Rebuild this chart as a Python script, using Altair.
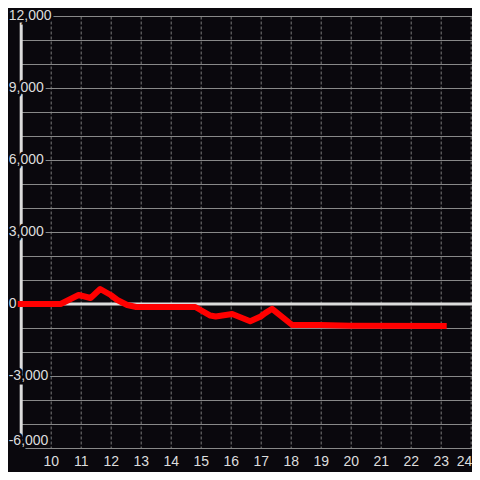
import altair as alt
import pandas as pd

# ---- data ----
hours = [9.0, 10.33, 10.93, 11.33, 11.65, 12.0, 12.22, 12.55, 12.85, 14.82,
         15.32, 15.5, 16.05, 16.65, 17.0, 17.15, 17.38, 18.05, 19.0, 20.0, 23.1]
values = [0, 0, 375, 250, 625, 375, 167, -40, -125, -125,
          -480, -520, -420, -720, -520, -380, -200, -875, -880, -910, -920]

y_ticks = [-6000, -3000, 0, 3000, 6000, 9000, 12000]
y_labels = ["-6,000", "-3,000", "0", "3,000", "6,000", "9,000", "12,000"]
x_ticks = list(range(10, 25))
y_grid = list(range(-6000, 12001, 1000))

BG = "#0a080d"
FG = "#dddddd"
FONT = "Liberation Sans"

line_df = pd.DataFrame({"hour": hours, "value": values})
lab_df = pd.DataFrame({"value": y_ticks, "label": y_labels})
zero_df = pd.DataFrame({"value": [0]})

x_scale = alt.Scale(domain=[9, 24.043], nice=False, zero=False)
y_scale = alt.Scale(domain=[-6000, 12000], nice=False, zero=False)

x_enc = alt.X("hour:Q", scale=x_scale,
              axis=alt.Axis(values=x_ticks, title=None, domain=False, ticks=False,
                            labelColor=FG, labelFontSize=14, labelFont=FONT,
                            labelPadding=6, labelFlush=False, labelOverlap=False,
                            labelBound=False,
                            labelAlign={"expr": "datum.value >= 24 ? 'right' : 'center'"},
                            labelOffset={"expr": "datum.value >= 24 ? 1 : 0"},
                            grid=True, gridColor="#7a7a7a", gridDash=[3, 2], gridWidth=1))
y_axis = alt.Axis(values=y_grid, title=None, labels=False, ticks=False,
                  domain=True, domainColor=FG, domainWidth=3,
                  grid=True, gridColor="#888888", gridWidth=1)
y_enc = alt.Y("value:Q", scale=y_scale, axis=y_axis)


def label_layer(halo, bottom):
    kw = dict(align="left", baseline="bottom" if bottom else "middle",
              font=FONT, fontSize=14)
    if halo:
        kw.update(fill=BG, stroke=BG, strokeWidth=5)
    else:
        kw.update(fill=FG)
    flt = "datum.value == -6000" if bottom else "datum.value != -6000"
    return (alt.Chart(lab_df).transform_filter(flt).mark_text(**kw)
            .encode(x=alt.value(-12), y=y_enc, text="label:N"))


line = alt.Chart(line_df).mark_line(
    color="#ff0000", strokeWidth=6, strokeCap="square", strokeJoin="round"
).encode(x=x_enc, y=y_enc)

zero = alt.Chart(zero_df).mark_rule(color=FG, strokeWidth=3).encode(y=y_enc)

chart = alt.layer(
    line.mark_line(opacity=0),
    label_layer(True, False), label_layer(True, True),
    zero, line,
    label_layer(False, False), label_layer(False, True),
).properties(
    width=451.3, height=432,
    padding={"left": 12.7, "top": 8, "right": 0, "bottom": 24},
    autosize=alt.AutoSizeParams(type="none"),
    background=BG,
).configure_view(stroke=None)

chart.save("out.html", embed_options={"renderer": "svg", "actions": False})
